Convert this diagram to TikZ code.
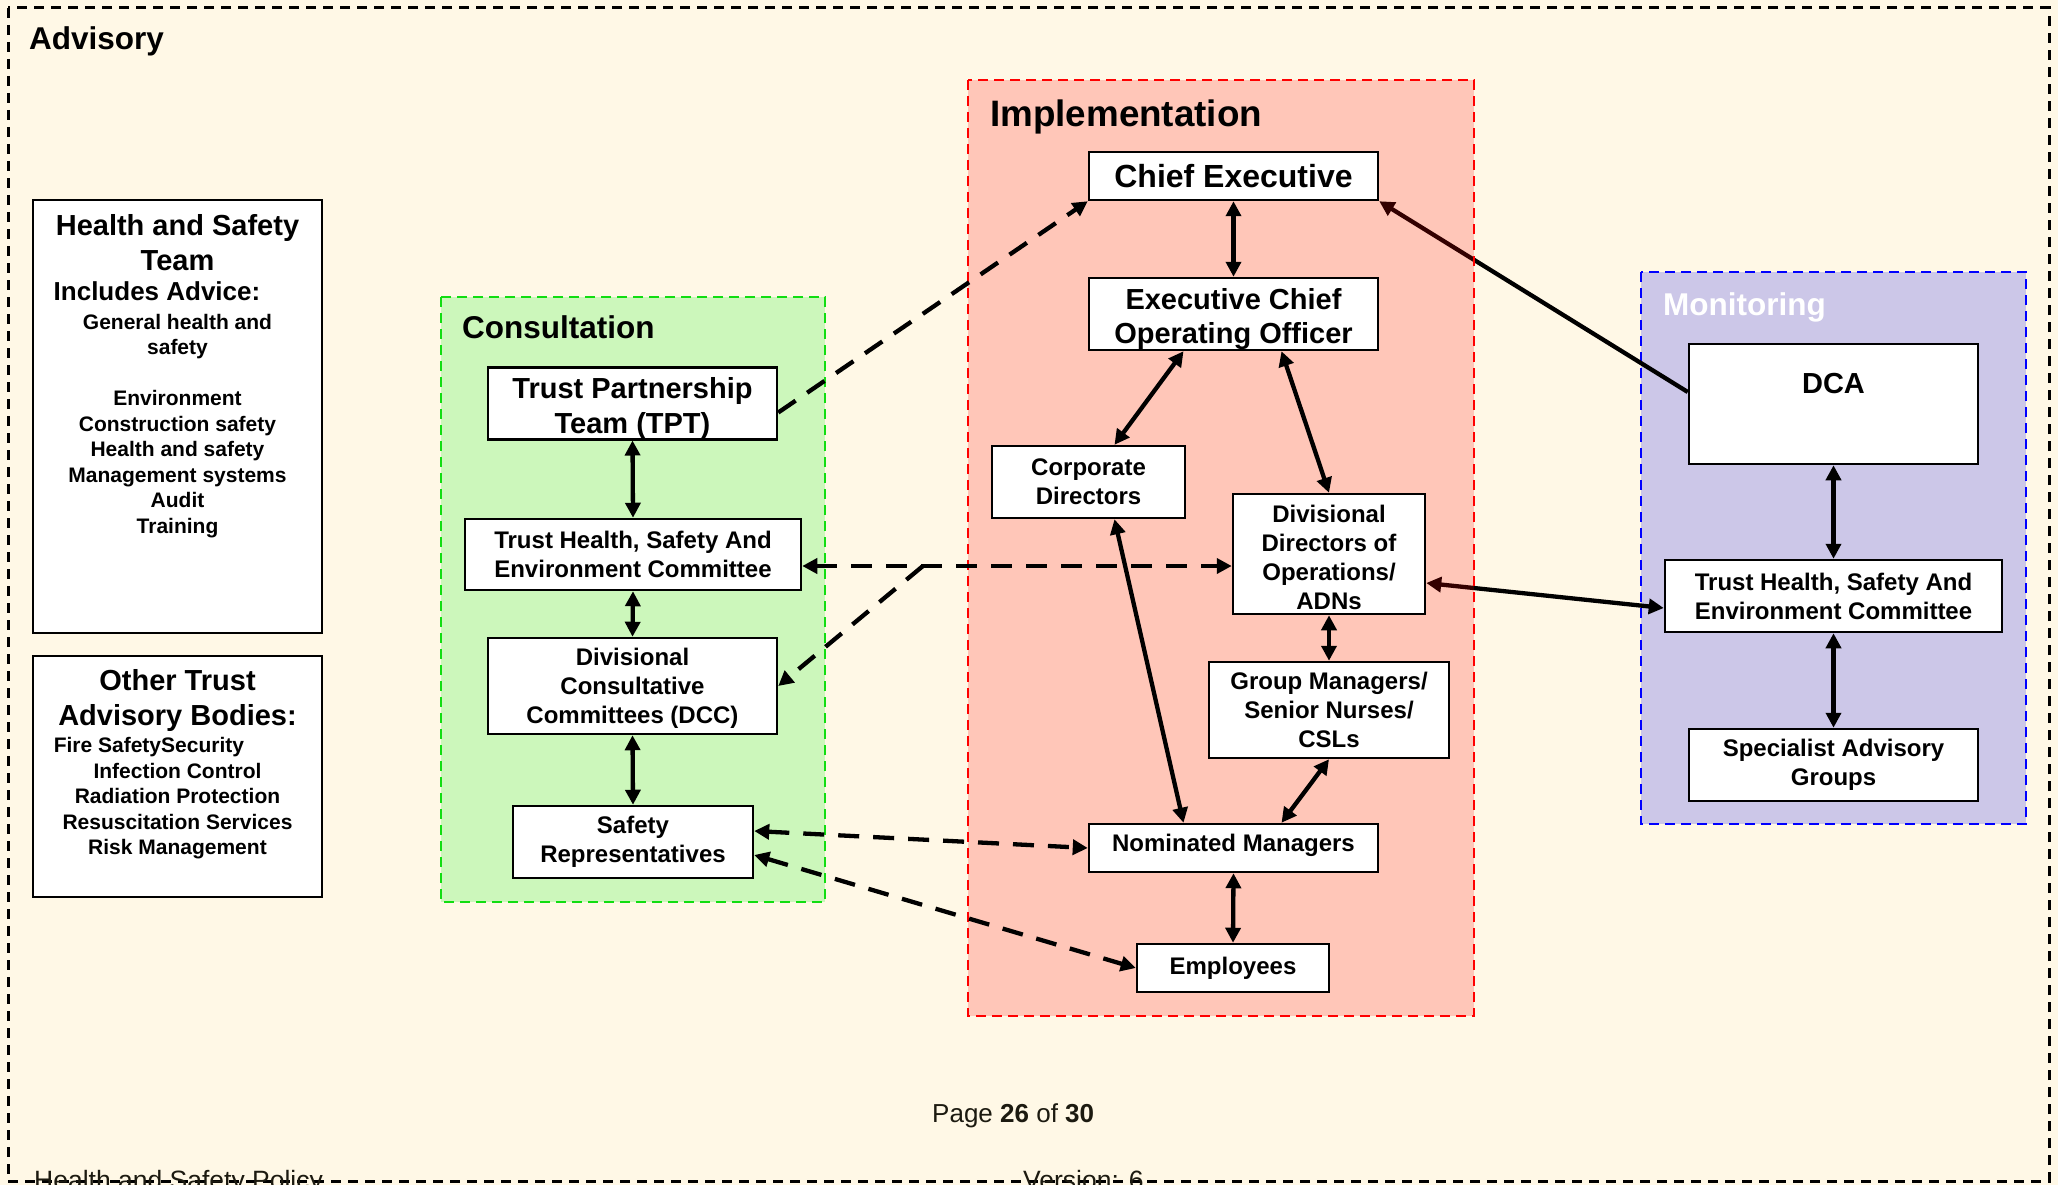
\documentclass[tikz,border=0pt]{standalone}
\usepackage{fontspec}
\setmainfont{Liberation Sans}
\usetikzlibrary{arrows.meta,calc}
\definecolor{cream}{HTML}{FFF8E6}
\definecolor{gfill}{HTML}{CCF7BB}
\definecolor{gline}{HTML}{11DD11}
\definecolor{bfill}{HTML}{CCC7E8}
\definecolor{bline}{HTML}{0000FF}
\definecolor{rline}{HTML}{FF0000}
\definecolor{pgtext}{HTML}{1C1A10}
\pgfdeclarelayer{bg}
\pgfdeclarelayer{lines}
\pgfdeclarelayer{ovl}
\pgfsetlayers{bg,lines,ovl,main}
\begin{document}
\begin{tikzpicture}[x=1pt,y=-1pt,
  >={Triangle[length=15pt,width=15pt]},
  wbox/.style={draw=black,fill=white,line width=2.5pt,inner sep=0pt,align=center},
  fA/.style={font=\fontsize{24}{29}\selectfont\bfseries},
  fB/.style={font=\fontsize{29}{34.5}\selectfont\bfseries},
  fS/.style={font=\fontsize{21}{25.5}\selectfont\bfseries},
  fL/.style={font=\fontsize{31.5}{36}\selectfont\bfseries},
  sol/.style={line width=4.3pt},
  dsh/.style={line width=4.3pt,dash pattern=on 21pt off 14pt},
  sect/.style={line width=2.6pt,dash pattern=on 10pt off 6pt},
  outer/.style={line width=3pt,dash pattern=on 10pt off 7pt},
  txt/.style={inner sep=0pt}
]
\useasboundingbox (0,0) rectangle (2058,1185);
\begin{pgfonlayer}{bg}
\fill[cream] (0,0) rectangle (2058,1185);
\draw[outer,black] (8,8) rectangle (2049,1181);
\filldraw[sect,draw=gline,fill=gfill] (441,297) rectangle (825,902);
\filldraw[sect,draw=bline,fill=bfill] (1641,272) rectangle (2026,824);
\end{pgfonlayer}
\begin{pgfonlayer}{ovl}
\fill[red,fill opacity=0.2] (968,80) rectangle (1474,1016);
\draw[sect,rline] (968,80) rectangle (1474,1016);
\end{pgfonlayer}

% section labels
\node[txt,fL,anchor=base west] (advl) at (29,50) {Advisory};
\node[txt,fL,anchor=base west] (conl) at (462,338) {Consultation};
\node[txt,font=\fontsize{36.8}{40}\selectfont\bfseries,anchor=base west] (impl) at (990,127) {Implementation};
\node[txt,fL,anchor=base west,white] (monl) at (1663,315) {Monitoring};

% advisory boxes
\node[wbox,minimum width=289,minimum height=433] (hst) at (177.5,416.5) {};
\node[txt,fB,anchor=base] (hst1) at (177.5,235) {Health and Safety};
\node[txt,fB,anchor=base] (hst2) at (177.5,270) {Team};
\node[txt,font=\fontsize{26}{30}\selectfont\bfseries,anchor=base west] (hst3) at (53.5,300.5) {Includes Advice:};
\foreach \t/\y [count=\i] in {General health and/329,safety/354.5,Environment/405.5,Construction safety/431,Health and safety/456.5,Management systems/482,Audit/507.5,Training/533}
  \node[txt,fS,anchor=base] (hsl\i) at (177.5,\y) {\t};

\node[wbox,minimum width=289,minimum height=241] (otb) at (177.5,776.5) {};
\node[txt,fB,anchor=base] (otb1) at (177.5,690) {Other Trust};
\node[txt,fB,anchor=base] (otb2) at (177.5,725.5) {Advisory Bodies:};
\node[txt,fS,anchor=base west] (otb3) at (53.6,752.5) {Fire SafetySecurity};
\foreach \t/\y [count=\i] in {Infection Control/778,Radiation Protection/803.5,Resuscitation Services/829,Risk Management/854.5}
  \node[txt,fS,anchor=base] (obl\i) at (177.5,\y) {\t};

% consultation
\node[wbox,fB,minimum width=289,minimum height=71] (tpt) at (632.5,403.5) {\rule{0pt}{31pt}Trust Partnership\\Team (TPT)};
\node[wbox,fA,minimum width=336,minimum height=71] (thc) at (633,554.5) {Trust Health, Safety And\\Environment Committee};
\node[wbox,fA,minimum width=289,minimum height=96] (dcc) at (632.5,686) {\rule{0pt}{22.5pt}Divisional\\Consultative\\Committees (DCC)};
\node[wbox,fA,minimum width=240,minimum height=72] (sr) at (633,842) {Safety\\Representatives};

% implementation
\node[wbox,font=\fontsize{32}{38}\selectfont\bfseries,minimum width=289,minimum height=48] (ce) at (1233.5,176) {Chief Executive};
\node[wbox,fB,minimum width=289,minimum height=72] (eco) at (1233.5,314) {\rule{0pt}{31pt}Executive Chief\\Operating Officer};
\node[wbox,fA,minimum width=193,minimum height=72] (cd) at (1088.5,482) {Corporate\\Directors};
\node[wbox,fA,minimum width=192,minimum height=120] (ddo) at (1329,554) {\rule{0pt}{25pt}Divisional\\Directors of\\Operations/\\ADNs};
\node[wbox,fA,minimum width=240,minimum height=96] (gm) at (1329,710) {Group Managers/\\Senior Nurses/\\CSLs};
\node[wbox,fA,minimum width=289,minimum height=48] (nm) at (1233.5,848) {Nominated Managers\rule[-11pt]{0pt}{11pt}};
\node[wbox,fA,minimum width=192,minimum height=48] (emp) at (1233,968) {Employees};

% monitoring
\node[wbox,minimum width=289,minimum height=120] (dca) at (1833.5,404) {};
\node[txt,fB,anchor=base] (dcat) at (1833.5,393.5) {DCA};
\node[wbox,fA,minimum width=337,minimum height=72] (thm) at (1833.5,596) {Trust Health, Safety And\\Environment Committee};
\node[wbox,fA,minimum width=289,minimum height=72] (sag) at (1833.5,765) {Specialist Advisory\\Groups};

% page texts
\node[txt,anchor=base west,text=pgtext,font=\fontsize{26}{30}\selectfont] (pg) at (932,1122.5) {Page \textbf{26} of \textbf{30}};
\node[txt,anchor=base west,text=pgtext,font=\fontsize{26.5}{30}\selectfont] (ft1) at (34,1189) {Health and Safety Policy};
\node[txt,anchor=base west,text=pgtext,font=\fontsize{26.5}{30}\selectfont] (ft2) at (1023,1189) {Version: 6};

% connectors
\draw[sol,<->] (tpt.south) -- (thc.north);
\draw[sol,<->] (thc.south) -- (dcc.north);
\draw[sol,<->] (dcc.south) -- (sr.north);
\draw[dsh,->] ($(tpt.east)+(0,9)$) -- (ce.south west);
\draw[dsh,<->] ($(thc.east)+(0,11.5)$) -- ($(ddo.west)+(0,12)$);
\coordinate (br) at ($(thc.east)!0.28!(ddo.west)+(0,12)$);
\draw[dsh,->] (br) -- (dcc.east);
\draw[sol,<->] (ce.south) -- (eco.north);
\draw[sol,<->] ($(eco.south)+(-50,0)$) -- ($(cd.north)+(26,0)$);
\draw[sol,<->] ($(eco.south)+(48,0)$) -- (ddo.north);
\draw[sol,<->] ($(cd.south)+(26,0)$) -- ($(nm.north)+(-50,0)$);
\draw[sol,<->] (ddo.south) -- (gm.north);
\draw[sol,<->] (gm.south) -- ($(nm.north)+(48,0)$);
\draw[sol,<->] (nm.south) -- (emp.north);
\draw[dsh,<->] ($(sr.east)+(0,-11)$) -- (nm.west);
\draw[dsh,<->] ($(sr.east)+(0,13)$) -- (emp.west);
\draw[sol,<->] (dca.south) -- (thm.north);
\draw[sol,<->] (thm.south) -- (sag.north);
\begin{pgfonlayer}{lines}
\draw[sol,->] ($(dca.west)+(0,-12)$) -- (ce.south east);
\draw[sol,<->] ($(ddo.east)+(0,29)$) -- ($(thm.west)+(0,12)$);
\end{pgfonlayer}
\end{tikzpicture}
\end{document}
